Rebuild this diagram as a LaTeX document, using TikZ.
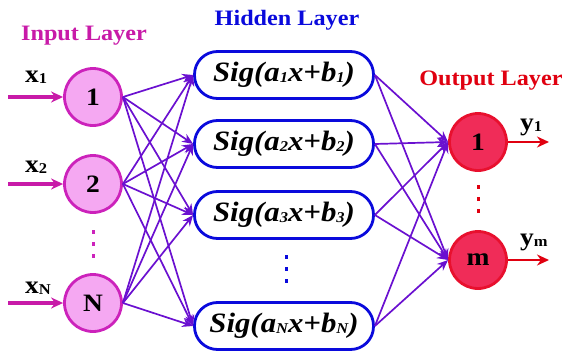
\documentclass[tikz,border=0pt]{standalone}
\usepackage{fontspec}
\setmainfont{Liberation Serif}[FakeStretch=1.1]
\usetikzlibrary{arrows.meta}
\definecolor{inpB}{HTML}{CC22BB}
\definecolor{inpF}{HTML}{F5A8F2}
\definecolor{outB}{HTML}{E8102E}
\definecolor{outF}{HTML}{F02C58}
\definecolor{hidB}{HTML}{0A0ADC}
\definecolor{conC}{HTML}{6A10D0}
\definecolor{inpT}{HTML}{C81AA8}
\definecolor{outT}{HTML}{E00010}
\newcommand{\subsz}[1]{\raisebox{-1pt}{\fontsize{15}{15}\selectfont #1}}
\newcommand{\sigf}[1]{\textbf{\textit{Sig(a\subsz{#1}x+b\subsz{#1})}}}
\begin{document}
\begin{tikzpicture}[x=1pt,y=-1pt,
  inp/.style={circle,draw=inpB,fill=inpF,line width=2.8pt,minimum size=57pt,inner sep=0pt,font=\fontsize{25}{25}\selectfont\bfseries},
  outn/.style={circle,draw=outB,fill=outF,line width=2.8pt,minimum size=57pt,inner sep=0pt,font=\fontsize{25}{25}\selectfont\bfseries},
  hid/.style={rectangle,rounded corners=23pt,draw=hidB,line width=2.8pt,minimum width=179pt,minimum height=47pt,inner sep=0pt,font=\fontsize{28}{30}\selectfont},
  conn/.style={draw=conC,line width=1.7pt,-{Stealth[length=11pt,width=9pt]}},
  inarr/.style={draw=inpT,line width=3.2pt,-{Stealth[length=12pt,width=11pt]}},
  outarr/.style={draw=outT,line width=2.8pt,-{Stealth[length=12pt,width=11pt]}},
  ttl/.style={anchor=base,font=\fontsize{22}{24}\selectfont\bfseries},
  lbl/.style={anchor=base west,inner sep=0pt,font=\fontsize{25}{25}\selectfont\bfseries},
  vdots/.style={line width=3pt,dash pattern=on 4pt off 8pt}
]
\useasboundingbox (0,0) rectangle (563,356);
% titles
\node[ttl,text=inpT] (tin) at (84,40) {Input Layer};
\node[ttl,text=hidB] (thid) at (287,25) {Hidden Layer};
\node[ttl,text=outT] (tout) at (491,85) {Output Layer};
% input nodes
\node[inp] (i1) at (93,97) {1};
\node[inp] (i2) at (93,184) {2};
\node[inp] (iN) at (93,303) {N};
% hidden nodes
\node[hid] (h1) at (284,75) {\sigf{1}};
\node[hid] (h2) at (284,144) {\sigf{2}};
\node[hid] (h3) at (284,215) {\sigf{3}};
\node[hid] (hN) at (284,326) {\sigf{N}};
% output nodes
\node[outn] (o1) at (478,142) {1};
\node[outn] (om) at (478,260) {m};
% dots
\draw[vdots,draw=inpB] (93,230) -- (93,259);
\draw[vdots,draw=hidB] (286,255) -- (286,284);
\draw[vdots,draw=outT] (478,185) -- (478,214);
% input arrows
\coordinate (s1) at (8,97);
\coordinate (s2) at (8,184);
\coordinate (sN) at (8,303);
\draw[inarr] (s1) -- (i1.west);
\draw[inarr] (s2) -- (i2.west);
\draw[inarr] (sN) -- (iN.west);
\node[lbl] (lx1) at (25,82) {x\subsz{1}};
\node[lbl] (lx2) at (25,172) {x\subsz{2}};
\node[lbl] (lxN) at (25,293) {x\subsz{N}};
% output arrows
\coordinate (e1) at (549,142);
\coordinate (em) at (549,260);
\draw[outarr] (o1.east) -- (e1);
\draw[outarr] (om.east) -- (em);
\node[lbl] (ly1) at (520,130) {y\subsz{1}};
\node[lbl] (lym) at (520,245) {y\subsz{m}};
% connections
\foreach \a in {i1,i2,iN}{
  \foreach \b in {h1,h2,h3,hN}{
    \draw[conn] (\a.east) -- (\b.west);
  }
}
\foreach \a in {h1,h2,h3,hN}{
  \foreach \b in {o1,om}{
    \draw[conn] (\a.east) -- (\b.west);
  }
}
\end{tikzpicture}
\end{document}
